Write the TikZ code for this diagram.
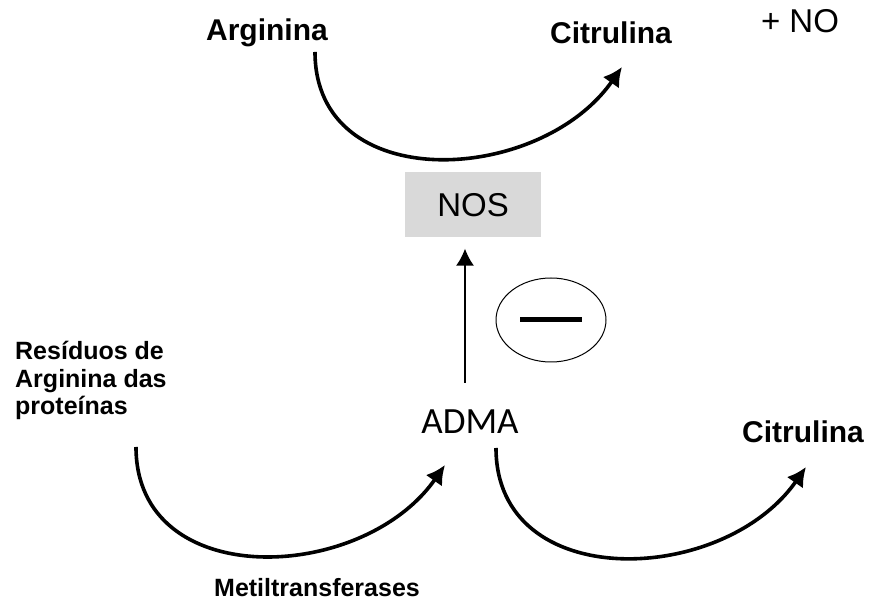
\documentclass[tikz,border=0pt]{standalone}
\usepackage{fontspec}
\setmainfont{Liberation Sans}
\newfontfamily\admafont{Carlito}
\usetikzlibrary{arrows.meta}
\usetikzlibrary{positioning,shapes.geometric}

\begin{document}
\begin{tikzpicture}[x=1pt,y=1pt,>={Latex[length=19pt,width=20pt]},
	big/.style={font=\bfseries\fontsize{30}{32}\selectfont,anchor=base},
	small/.style={font=\bfseries\fontsize{25}{27.5}\selectfont},
	plain/.style={font=\fontsize{33}{36}\selectfont,anchor=base},
	curve/.style={->,line width=3.6pt,out=-90,in=-125,looseness=1.2},
	enzyme/.style={fill=black!15,minimum width=136pt,minimum height=65pt,inner sep=0pt}]

	\useasboundingbox (0,0) rectangle (869,601);

	\node[big] (arg) at (267,560) {Arginina};
	\node[big] (cit1) at (611,557) {Citrulina};
	\node[plain] (no) at (800,568) {+ NO};
	\node[enzyme,font=\fontsize{33}{36}\selectfont] (nos) at (473,396) {NOS};
	\node[font=\admafont\fontsize{37}{40}\selectfont,anchor=base] (adma) at (470,167) {ADMA};
	\node[big] (cit2) at (803,158) {Citrulina};
	\node[small,anchor=base] (met) at (317,4) {Metiltransferases};
	\node[small,anchor=north west,align=left,inner sep=0pt] (res) at (15,260) {Resíduos de\\Arginina das\\proteínas};

	\node[draw,ellipse,minimum width=110pt,minimum height=84pt,line width=1pt] (inib) at (551,281) {};
	\draw[line width=5pt] ([xshift=-31pt]inib.center) -- ([xshift=31pt]inib.center);

	\coordinate (a1) at (315,549);
	\coordinate (a2) at (622,534);
	\coordinate (b1) at (136,154);
	\coordinate (b2) at (445,136);
	\coordinate (c1) at (496,153);
	\coordinate (c2) at (806,134);
	\coordinate (d1) at (465,218);

	\draw[curve] (a1) to (a2);
	\draw[curve] (b1) to (b2);
	\draw[curve] (c1) to (c2);
	\draw[->,>={Latex[length=17pt,width=18pt]},line width=1.4pt] (d1) -- ([yshift=-11pt]d1 |- nos.south);

\end{tikzpicture}
\end{document}
